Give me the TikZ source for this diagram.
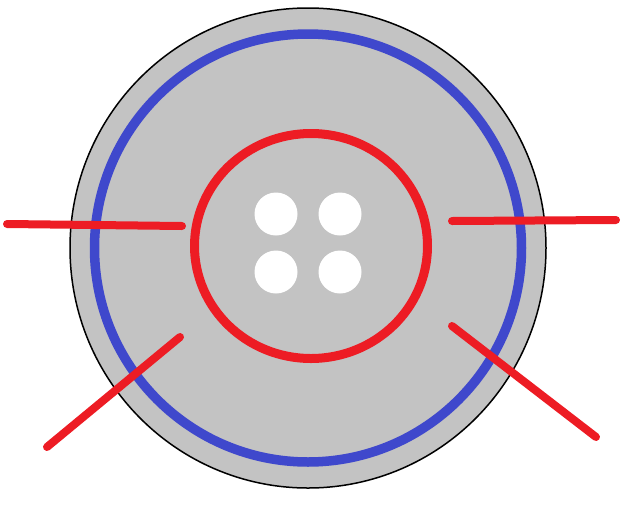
\documentclass[tikz,border=0pt]{standalone}
\definecolor{btngray}{RGB}{195,195,195}
\definecolor{rimblue}{RGB}{63,72,204}
\definecolor{paintred}{RGB}{237,28,36}
\tikzset{
  redline/.style={draw=paintred, line width=8pt, line cap=round},
  hole/.style={fill=white}
}
\begin{document}
\begin{tikzpicture}[x=1pt,y=-1pt]
\useasboundingbox (0,0) rectangle (632,512);
% button body
\draw[fill=btngray, draw=black, line width=1.5pt] (308,248) ellipse [x radius=238, y radius=240];
% blue rim
\draw[draw=rimblue, line width=9.5pt] (308,248) ellipse [x radius=213.5, y radius=214];
% red inner ring
\draw[draw=paintred, line width=9pt] (311,246) ellipse [x radius=116.5, y radius=112.5];
% holes
\fill[hole] (276,214) circle [radius=21.5];
\fill[hole] (340,214) circle [radius=21.5];
\fill[hole] (276,272) circle [radius=21.5];
\fill[hole] (340,272) circle [radius=21.5];
% red lines
\coordinate (l1a) at (7,224);   \coordinate (l1b) at (182,226);
\coordinate (l2a) at (452,221); \coordinate (l2b) at (616,220);
\coordinate (l3a) at (47,447);  \coordinate (l3b) at (180,337);
\coordinate (l4a) at (452,326); \coordinate (l4b) at (596,437);
\draw[redline] (l1a) -- (l1b);
\draw[redline] (l2a) -- (l2b);
\draw[redline] (l3a) -- (l3b);
\draw[redline] (l4a) -- (l4b);
\end{tikzpicture}
\end{document}
